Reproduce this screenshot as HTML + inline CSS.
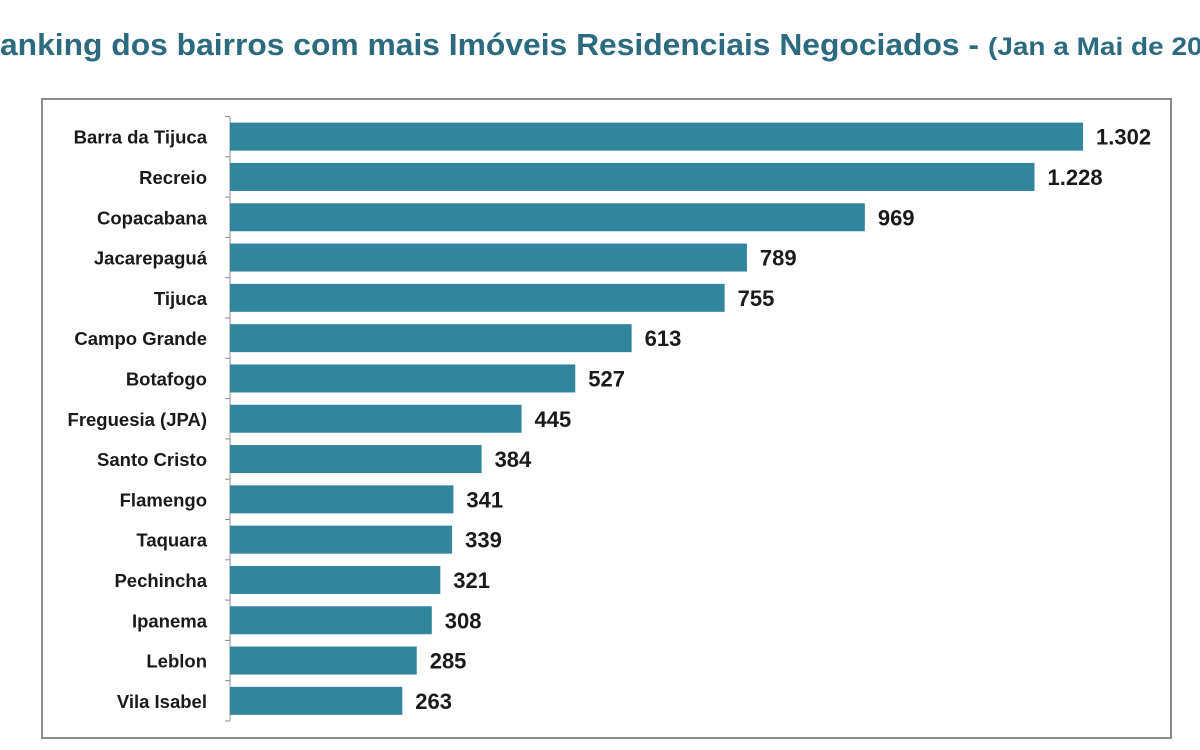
<!DOCTYPE html>
<html><head><meta charset="utf-8"><style>
html,body{margin:0;padding:0;background:#fff;width:1200px;height:750px;overflow:hidden}
svg{display:block}
text{font-family:"Liberation Sans",sans-serif;font-weight:bold}
</style></head><body>
<svg id="chart" width="1200" height="750">
  <text x="-23" y="55" font-size="31" fill="#2c6b7f" textLength="1002" lengthAdjust="spacingAndGlyphs">Ranking dos bairros com mais Imóveis Residenciais Negociados -</text>
  <text x="988" y="55" font-size="25" fill="#2c6b7f" textLength="255" lengthAdjust="spacingAndGlyphs">(Jan a Mai de 2022)</text>
  <rect x="42" y="99" width="1129" height="639" fill="#fff" stroke="#8c8c8c" stroke-width="2"/>
  <g id="plot"></g>
</svg>
<script>
const categories = ["Barra da Tijuca","Recreio","Copacabana","Jacarepaguá","Tijuca","Campo Grande","Botafogo","Freguesia (JPA)","Santo Cristo","Flamengo","Taquara","Pechincha","Ipanema","Leblon","Vila Isabel"];
const values = [1302,1228,969,789,755,613,527,445,384,341,339,321,308,285,263];
const valueLabels = ["1.302","1.228","969","789","755","613","527","445","384","341","339","321","308","285","263"];

const NS = "http://www.w3.org/2000/svg";
const plot = document.getElementById('plot');
const x0 = 230, pxPerUnit = (1083 - 230) / 1302;
const top0 = 116.5, band = 40.3, barH = 28;
const xScale = v => x0 + v * pxPerUnit;
const yBand = i => top0 + i * band;
function mk(tag, attrs){ const e = document.createElementNS(NS, tag); for (const k in attrs) e.setAttribute(k, attrs[k]); plot.appendChild(e); return e; }

const axis = mk('line', {x1:x0, x2:x0, y1:top0, y2:yBand(categories.length), stroke:'#8c8c8c', 'stroke-width':1});


for (let i = 0; i <= categories.length; i++) {
  const t = mk('line', {x1:x0-5, x2:x0, y1:yBand(i), y2:yBand(i), stroke:'#8c8c8c', 'stroke-width':1});
  
  
}
categories.forEach((c, i) => {
  const yc = yBand(i) + band / 2;
  const r = mk('rect', {x:x0, y:yc - barH/2, width:xScale(values[i]) - x0, height:barH, fill:'#31859c'});
  
  
  const l = mk('text', {x:207, y:yc + 7, 'text-anchor':'end', 'font-size':18.5, fill:'#1a1a1a'});
  l.textContent = c;
  
  
  const v = mk('text', {x:xScale(values[i]) + 13, y:yc + 8, 'font-size':22, fill:'#1a1a1a'});
  v.textContent = valueLabels[i];
  
  
});
</script>
</body></html>
